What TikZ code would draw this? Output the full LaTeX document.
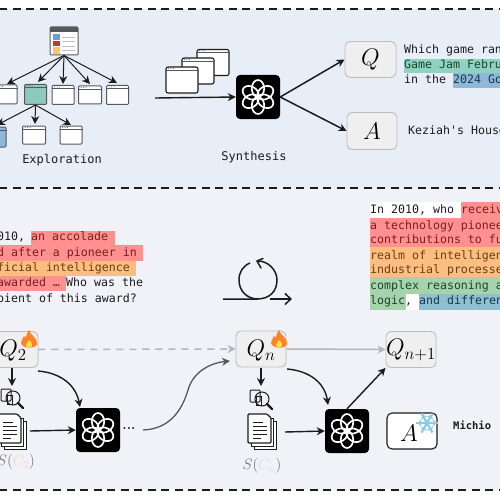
\documentclass[tikz,border=0pt]{standalone}
\usepackage{fix-cm}
\usepackage{fontspec}
\setmonofont{DejaVu Sans Mono}
\usetikzlibrary{arrows.meta}
\definecolor{panelA}{HTML}{E8EEF8}
\definecolor{panelB}{HTML}{F1F1F8}
\definecolor{ink}{HTML}{1C1C1C}
\definecolor{wline}{HTML}{55595C}
\definecolor{boxfill}{HTML}{EFEFEF}
\definecolor{boxline}{HTML}{BDBDBD}
\definecolor{hred}{HTML}{FF9090}
\definecolor{horange}{HTML}{FBBE80}
\definecolor{hgreen}{HTML}{A6D2AC}
\definecolor{hblue}{HTML}{8FBFD0}
\definecolor{hteal}{HTML}{8FD2C2}
\definecolor{hsteel}{HTML}{8FB8D8}
\definecolor{tred}{HTML}{7A1F22}
\definecolor{torange}{HTML}{6A4012}
\definecolor{tgreen}{HTML}{17492A}
\definecolor{tblue}{HTML}{17394F}
\definecolor{gline}{HTML}{B4B4BC}
\definecolor{ice}{HTML}{8CCBE6}
\tikzset{
  x=1pt,y=-1pt,
  arr/.style={-{Stealth[length=8pt,width=8pt]},line width=1.4pt,color=ink},
  grayarr/.style={-{Stealth[length=8pt,width=8pt]},line width=1.5pt,color=gline},
  win/.style={draw=wline,fill=white,line width=1pt,rounded corners=1pt,inner sep=0pt},
  stackwin/.style={draw=ink,fill=white,line width=1.1pt,rounded corners=2pt,inner sep=0pt,minimum width=32pt,minimum height=26pt},
  qbox/.style={draw=boxline,fill=boxfill,line width=.9pt,rounded corners=5pt,inner sep=0pt,minimum width=50pt,minimum height=36pt},
  logobox/.style={fill=black,rounded corners=4pt,minimum width=44pt,minimum height=44pt,inner sep=0pt},
  mono/.style={font=\ttfamily\fontsize{11.6}{12}\selectfont,anchor=west,inner sep=0pt,text height=8pt,text depth=2pt},
  lbl/.style={font=\ttfamily\fontsize{12}{13}\selectfont,text=ink,inner sep=0pt},
  mathlbl/.style={font=\fontsize{24}{26}\selectfont,text=black},
}
\newcommand{\knot}[1]{%
  \foreach \k in {30,90,...,330}{
    \draw[white,line width=1.7pt,rotate around={\k:(#1)}] ([xshift=8.5pt]#1) ellipse [x radius=8.5pt,y radius=6.2pt];
  }}
\newcommand{\wbar}[1]{%
  \draw[wline,line width=1pt] ([yshift=-4pt]#1.north west) -- ([yshift=-4pt]#1.north east);
  \fill[wline] ([xshift=3pt,yshift=-2pt]#1.north west) circle (.5pt) ++(2.5,0) circle (.5pt) ++(2.5,0) circle (.5pt);}
\newcommand{\flame}[1]{%
  \begin{scope}[shift={(#1)}]
    \fill[orange!85!red!85!white] (0,-10) .. controls (1,-5) and (9,-2) .. (8,4) .. controls (7,9) and (-7,9) .. (-8,3) .. controls (-8,0) and (-6,-1) .. (-5,-4) .. controls (-4,-2) and (-3,-2) .. (-3,-3) .. controls (-3,-6) and (-1,-8) .. (0,-10) -- cycle;
    \fill[yellow!75!orange!70!white] (0,0) .. controls (2,2) and (4,4) .. (3,6) .. controls (2,8) and (-3,8) .. (-3,5) .. controls (-3,3) and (-1,2) .. (0,0) -- cycle;
  \end{scope}}
\newcommand{\lens}[1]{%
  \begin{scope}[shift={(#1)}]
    \draw[ink,fill=panelB,line width=1pt,rounded corners=1pt] (-11,-8) rectangle (-1,4);
    \draw[ink,line width=1pt] (0,-2) rectangle (-5,7);
    \draw[ink,line width=1pt] (1,1) circle (7);
    \draw[ink,line width=2.4pt,line cap=round] (6,6) -- (11,11);
  \end{scope}}
\newcommand{\docs}[1]{%
  \begin{scope}[shift={(#1)}]
    \draw[ink,fill=white,line width=1pt] (-8,-10) rectangle (14,18);
    \draw[ink,fill=white,line width=1pt] (-11,-13) rectangle (11,15);
    \draw[ink,fill=white,line width=1.1pt,rounded corners=1pt] (-14,-17) -- (5,-17) -- (9,-13) -- (9,12) -- (-14,12) -- cycle;
    \draw[ink,line width=1pt] (-9,-9)--(1,-9) (-9,-5)--(5,-5) (-9,-1)--(5,-1) (-9,3)--(5,3) (-9,7)--(-1,7);
  \end{scope}}
\begin{document}
\begin{tikzpicture}
\useasboundingbox (0,0) rectangle (500,500);
\clip (0,0) rectangle (500,500);
\fill[white] (0,0) rectangle (500,500);
\fill[panelA] (0,9) rectangle (500,188);
\fill[panelB] (0,188) rectangle (500,490);
\foreach \yy in {9,188,490}
  \draw[ink,line width=1.1pt,dash pattern=on 8pt off 5.5pt] (-1,\yy) -- (500,\yy);

% exploration tree
\node[win,minimum width=28pt,minimum height=28pt] (root) at (64,41) {};
\fill[wline] (50,27) rectangle (78,32);
\fill[hblue!80!blue] (53,34) rectangle (60,40);
\fill[red!60!gray] (53,41) rectangle (60,46);
\fill[horange!90!yellow] (53,47) rectangle (60,54);
\draw[gray!50,line width=.5pt] (62,37)--(75,37) (62,41)--(75,41) (62,46)--(75,46) (62,50)--(75,50);
\node[win,minimum width=22pt,minimum height=19pt] (c1) at (6,94.5) {};
\node[win,fill=hteal!90!gray,minimum width=22pt,minimum height=20pt] (c2) at (35.5,94.5) {};
\node[win,minimum width=22pt,minimum height=19pt] (c3) at (63,95) {};
\node[win,minimum width=23pt,minimum height=18pt] (c4) at (90,95) {};
\node[win,minimum width=22pt,minimum height=19pt] (c5) at (117.5,95) {};
\node[win,fill=hsteel,minimum width=22pt,minimum height=20pt] (d1) at (-5,137) {};
\node[win,minimum width=23pt,minimum height=18pt] (d2) at (34,135) {};
\node[win,minimum width=22pt,minimum height=18pt] (d3) at (71,135) {};
\foreach \w in {c1,c2,c3,c4,c5,d1,d2,d3} {\wbar{\w}}
\foreach \e in {{7,84},{38,82},{63,84},{90,84},{117,83}} {\draw[arr,line width=1pt] (root.south) -- (\e);}
\foreach \e in {{-3,125},{35,124},{71,125}} {\draw[arr,line width=1pt] (c2.south) -- (\e);}
\node[lbl] (explab) at (62,160) {Exploration};

% synthesis
\node[stackwin] (w3) at (213,62.5) {};
\node[stackwin] (w2) at (198,71) {};
\node[stackwin] (w1) at (182,80) {};
\foreach \w in {w3,w2,w1} {\wbar{\w}}
\coordinate (syn) at (155,98);
\node[logobox] (l1) at (258,97) {};
\knot{l1}
\draw[arr,line width=1.4pt] (syn) -- (l1.west);
\node[lbl] (synlab) at (254,157) {Synthesis};
\node[qbox,minimum width=51pt] (qq) at (370.5,59.5) {};
\node[mathlbl] (qqt) at (qq) {$Q$};
\node[qbox,minimum height=37pt] (aa) at (372,131) {};
\node[mathlbl] (aat) at (aa) {$A$};
\draw[arr,line width=1.5pt] (l1.east) -- (qq.west);
\draw[arr,line width=1.5pt] (l1.east) -- (aa.west);

% top text
\fill[hteal] (404,59) rectangle (500,73);
\fill[hsteel] (453,73) rectangle (500,88);
\node[mono,text=ink] (t1) at (404,51) {Which game ran};
\node[mono,text=tgreen] (t2) at (404,66) {Game Jam Febru};
\node[mono,text=ink] (t3a) at (404,81) {in the};
\node[mono,text=tblue] (t3b) at (453,81) {2024 Go};
\node[mono,text=ink] (t4) at (408,131) {Keziah's House};

% left question
\fill[hred] (31,231) rectangle (115,245);
\fill[hred] (0,245) rectangle (143,261);
\fill[horange] (0,261) rectangle (136,276);
\fill[hred] (0,276) rectangle (66,291);
\node[mono,text=ink] (a1) at (-31,237) {In 2010,};
\node[mono,text=tred] (a1b) at (31,237) {an accolade};
\node[mono,text=tred] (a2) at (-31,253) {named after a pioneer in};
\node[mono,text=torange] (a3) at (-31,268) {artificial intelligence};
\node[mono,text=tred] (a4) at (-31,283) {was awarded …};
\node[mono,text=ink] (a4b) at (66,283) {Who was the};
\node[mono,text=ink] (a5) at (-31,299) {recipient of this award?};

% right question
\fill[white] (370,202) rectangle (461,218);
\fill[hred] (461,202) rectangle (500,218);
\fill[hred] (370,218) rectangle (500,247);
\fill[horange] (370,247) rectangle (500,277);
\fill[hgreen] (370,277) rectangle (500,294);
\fill[hgreen] (370,294) rectangle (406,310);
\fill[white] (406,294) rectangle (419,310);
\fill[hblue] (419,294) rectangle (500,310);
\node[mono,text=ink] (b1) at (370,210) {In 2010, who};
\node[mono,text=tred] (b1b) at (461,210) {receiv};
\node[mono,text=tred] (b2) at (370,226) {a technology pioneer};
\node[mono,text=tred] (b3) at (370,240) {contributions to fu};
\node[mono,text=torange] (b4) at (370,256) {realm of intelligen};
\node[mono,text=torange] (b5) at (370,270) {industrial processe};
\node[mono,text=tgreen] (b6) at (370,286) {complex reasoning a};
\node[mono,text=tgreen] (b7) at (370,301) {logic};
\node[mono,text=ink] (b7b) at (405,301) {,};
\node[mono,text=tblue] (b7c) at (419,301) {and differen};

% loop
\coordinate (lpa) at (223,299);
\coordinate (lpc) at (270,299);
\coordinate (lpd) at (292,299);
\draw[ink,line width=1.5pt] (lpa) -- (257,299) .. controls (270,299) and (277,291) .. (277,280) .. controls (277,270) and (268,261) .. (258,261);
\draw[ink,line width=1.5pt] (258,299) .. controls (247,299) and (239,291) .. (239,280) .. controls (239,272) and (243,266) .. (250,263);
\draw[ink,line width=1.5pt,line cap=round] (263,258.5) -- (257,261) -- (261,268);
\draw[ink,line width=1.5pt,-{Straight Barb[length=6pt,width=11pt]}] (lpc) -- (lpd);

% bottom row
\node[qbox] (q2) at (13,349.5) {};
\node[mathlbl] (q2t) at (13,351) {$Q_2$};
\node[qbox] (qn) at (261,349) {};
\node[mathlbl] (qnt) at (261,351) {$Q_n$};
\node[qbox] (qm) at (411,349.5) {};
\node[mathlbl,inner sep=0pt] (qmt) at (411,350) {$Q_{n+1}$};
\flame{29,340}
\flame{279,340}
\node[logobox] (l2) at (98,430) {};
\knot{l2}
\node[logobox] (l3) at (347,431) {};
\knot{l3}
\draw[grayarr,dash pattern=on 7pt off 6pt] (q2.east) -- (qn.west);
\draw[grayarr] (qn.east) -- (qm.west);
\coordinate (m2) at (12,397);
\coordinate (m3) at (261,398);
\coordinate (d2c) at (12,431);
\coordinate (d3c) at (262,431);
\lens{m2}
\lens{m3}
\docs{d2c}
\docs{d3c}
\draw[arr] (12,368) -- (12,386);
\draw[arr] (261,368) -- (261,386);
\coordinate (q2o) at (38,371);
\coordinate (qno) at (287,369);
\draw[arr] (q2o) .. controls (62,373) and (76,386) .. (80,407);
\draw[arr] (qno) .. controls (311,371) and (325,384) .. (328,405);
\draw[arr] (30,431) -- (l2.west);
\draw[arr] (285,432) -- (l3.west);
\draw[arr] (l3.north) -- (qm.south west);
\node[font=\bfseries\fontsize{14}{14}\selectfont,text=ink,inner sep=0pt] (dots) at (129,428) {...};
\coordinate (go) at (143,430);
\draw[-{Stealth[length=8pt,width=8pt]},line width=1.3pt,color=wline] (go) .. controls (170,429) and (182,410) .. (188,390) .. controls (193,372) and (210,363) .. (230,361);
\node[font=\fontsize{15}{16}\selectfont,text=gray!90!black,inner sep=0pt] (s2) at (16,462) {$S(\textcolor{horange!60!white}{C_2})$};
\node[font=\fontsize{15}{16}\selectfont,text=gray!90!black,inner sep=0pt] (sn) at (262,466) {$S(\textcolor{hblue!40!white}{C_n})$};
\node[draw=ink,fill=white,line width=1.1pt,rounded corners=5pt,inner sep=0pt,minimum width=50pt,minimum height=36pt] (af) at (412,431) {};
\node[mathlbl] (aft) at (409,433) {$A$};
\begin{scope}[shift={(427,423)}]
  \foreach \k in {0,60,120}{
    \draw[ice,line width=2.2pt,rotate=\k] (-11,0) -- (11,0);
  }
  \foreach \k in {0,60,...,300}{
    \draw[ice,line width=1.2pt,rotate=\k] (6,-3) -- (8,0) -- (6,3);
  }
\end{scope}
\node[font=\ttfamily\bfseries\fontsize{10.5}{12}\selectfont,text=ink,anchor=west,inner sep=0pt] (mi) at (453,425) {Michio};
\end{tikzpicture}
\end{document}
